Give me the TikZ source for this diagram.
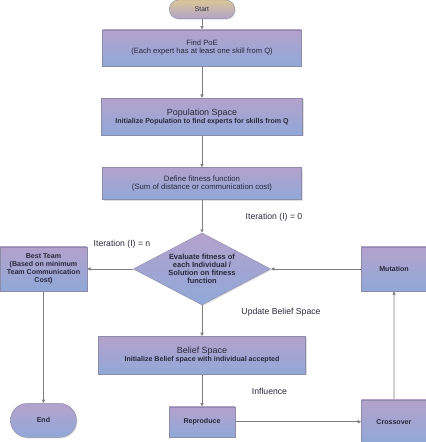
\documentclass[tikz,border=0pt]{standalone}
\usepackage{fontspec}
\setmainfont{Liberation Sans}
\usepackage{tikz}
\usetikzlibrary{shapes.geometric, arrows.meta, positioning, shadows, backgrounds}
\definecolor{flowTop}{RGB}{180,162,204}
\definecolor{flowBottom}{RGB}{144,168,216}
\definecolor{flowEdge}{RGB}{140,140,170}
\definecolor{termTop}{RGB}{218,198,150}
\definecolor{termBottom}{RGB}{178,164,202}
\definecolor{flowText}{RGB}{40,40,60}
\definecolor{flowLine}{RGB}{125,125,130}

\begin{document}
\begin{tikzpicture}[
  node distance=24pt,
  process/.style={rectangle, draw=flowEdge, line width=0.3pt,
                  top color=flowTop, bottom color=flowBottom,
                  drop shadow={shadow xshift=0.8pt, shadow yshift=-0.8pt, opacity=0.25},
                  align=center, text=flowText, inner sep=1pt,
                  font=\fontsize{5.3}{5.9}\selectfont\bfseries},
  terminal/.style={process, rounded corners=#1},
  decision/.style={diamond, draw=flowEdge, line width=0.3pt,
                   top color=flowTop, bottom color=flowBottom,
                   drop shadow={shadow xshift=0.8pt, shadow yshift=-0.8pt, opacity=0.25},
                   align=center, text=flowText, inner sep=0pt, aspect=1.9,
                   font=\fontsize{5.6}{5.9}\selectfont\bfseries},
  arrow/.style={-{Triangle[length=2.6pt, width=2.4pt]}, draw=flowLine, line width=0.5pt},
  note/.style={font=\fontsize{6.5}{7}\selectfont, text=flowText},
]
  \useasboundingbox (0,0) rectangle (318.75pt,-331.5pt);

  % main column
  \node[terminal=6.75pt, top color=termTop, bottom color=termBottom,
        minimum width=49pt, minimum height=14pt,
        font=\fontsize{5}{5.5}\selectfont] (start) at (151.5pt,-7pt) {Start};
  \node[process, below=8pt of start, minimum width=149pt, minimum height=27pt,
        font=\fontsize{5.7}{5.6}\selectfont] (poe)
        {Find PoE\\(Each expert has at least one skill from Q)};
  \node[process, below=24pt of poe, minimum width=150.75pt, minimum height=27.75pt] (pop)
        {{\fontsize{6.7}{7}\selectfont\mdseries Population Space}\\Initialize Population to find experts for skills from Q};
  \node[process, below=24pt of pop, minimum width=149.25pt, minimum height=24pt,
        font=\fontsize{5.8}{6.25}\selectfont] (fit)
        {Define fitness function\\(Sum of distance or communication cost)};
  \node[decision, below=24.75pt of fit, minimum width=103pt, minimum height=54pt] (eval)
        {Evaluate fitness of\\each Individual /\\Solution on fitness\\function};
  \node[process, below=23.25pt of eval, minimum width=155.25pt, minimum height=28.5pt] (belief)
        {{\fontsize{6.7}{7}\selectfont\mdseries Belief Space}\\Initialize Belief space with individual accepted};
  \node[process, below=24pt of belief, minimum width=49.5pt, minimum height=22.5pt] (repro) {Reproduce};

  % side nodes
  \node[process, left=34.5pt of eval, minimum width=65.25pt, minimum height=33pt] (best)
        {Best Team\\(Based on minimum\\Team Communication\\Cost)};
  \node[terminal=12.75pt, below=84pt of best, minimum width=49.5pt, minimum height=25.5pt] (end) {End};
  \node[process, right=67.5pt of eval, minimum width=49.5pt, minimum height=33pt] (mut) {Mutation};
  \node[process, right=94.5pt of repro, minimum width=48.75pt, minimum height=33pt] (cross) {Crossover};

  \begin{scope}[on background layer]
    \draw[arrow] (start) -- (poe);
    \draw[arrow] (poe) -- (pop);
    \draw[arrow] (pop) -- (fit);
    \draw[arrow] (fit) -- (eval);
    \draw[arrow] (eval) -- (best);
    \draw[arrow] (best) -- (end);
    \draw[arrow] (eval) -- (belief);
    \draw[arrow] (belief) -- (repro);
    \draw[arrow] (repro) -- (cross);
    \draw[arrow] (cross) -- (mut);
    \draw[arrow] (mut) -- (eval);
  \end{scope}

  \node[note] (it0) at (205.5pt,-162.75pt) {Iteration (I) = 0};
  \node[note] (itn) at (91.5pt,-183pt) {Iteration (I) = n};
  \node[note] (upd) at (210.75pt,-234pt) {Update Belief Space};
  \node[note] (infl) at (202.1pt,-293.25pt) {Influence};
\end{tikzpicture}
\end{document}
